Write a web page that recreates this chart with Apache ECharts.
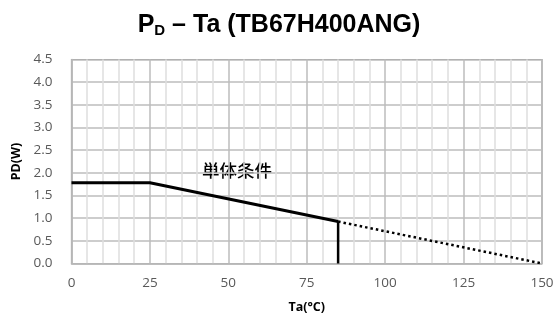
<!DOCTYPE html>
<html>
<head>
<meta charset="utf-8">
<script src="https://cdn.jsdelivr.net/npm/echarts@6/dist/echarts.min.js"></script>
<style>
  html, body { margin: 0; padding: 0; background: #fff; }
  #chart { width: 558px; height: 323px; }
</style>
</head>
<body>
<div id="chart"></div>
<script>
  // derating curve PD vs Ta
  const taSolid = [0, 25, 85];
  const pdSolid = [1.78, 1.78, 0.925];
  const taCut = [85, 85];
  const pdCut = [0.925, 0];
  const taDotted = [85, 150];
  const pdDotted = [0.925, 0];
  const xTicks = [0, 25, 50, 75, 100, 125, 150];
  const yTicks = [0, 0.5, 1, 1.5, 2, 2.5, 3, 3.5, 4, 4.5];
  const noteText = '単体条件';

  const zip = (xs, ys) => xs.map((x, i) => [x, ys[i]]);
  const labelFont = '"Open Sans", "Liberation Sans", sans-serif';

  const chart = echarts.init(document.getElementById('chart'));
  chart.setOption({
    animation: false,
    title: {
      text: '{p|P}{sub|D}{p| – Ta (TB67H400ANG)}',
      left: 'center',
      top: 7,
      textStyle: {
        rich: {
          p: { fontSize: 25, fontWeight: 'bold', color: '#000', fontFamily: '"Liberation Sans", sans-serif' },
          sub: { fontSize: 15, fontWeight: 'bold', color: '#000', verticalAlign: 'bottom', padding: [11, 0, 0, 0], fontFamily: '"Liberation Sans", sans-serif' }
        }
      }
    },
    grid: {
      left: 71.5, right: 16, top: 59.5, bottom: 59.5,
      show: true, borderColor: '#8c8c8c', borderWidth: 1.2
    },
    xAxis: {
      type: 'value',
      min: xTicks[0], max: xTicks[xTicks.length - 1], interval: 25,
      name: 'Ta(°C)', nameLocation: 'middle', nameGap: 37,
      nameTextStyle: { fontWeight: 'bold', fontSize: 12.5, color: '#000', fontFamily: labelFont },
      axisLine: { show: true, lineStyle: { color: '#b8b8b8', width: 1.5 } },
      axisTick: { show: false },
      axisLabel: { color: '#595959', fontSize: 13.5, margin: 13, fontFamily: labelFont },
      splitLine: { show: true, lineStyle: { color: '#bdbdbd', width: 1.5 } },
      minorTick: { show: false, splitNumber: 5 },
      minorSplitLine: { show: true, lineStyle: { color: '#dedede', width: 1.5 } }
    },
    yAxis: {
      type: 'value',
      min: yTicks[0], max: yTicks[yTicks.length - 1], interval: 0.5,
      name: 'PD(W)', nameLocation: 'middle', nameGap: 47,
      nameTextStyle: { fontWeight: 'bold', fontSize: 12.5, color: '#000', fontFamily: labelFont },
      axisLine: { show: true, lineStyle: { color: '#b8b8b8', width: 1.5 } },
      axisTick: { show: false },
      axisLabel: { color: '#595959', fontSize: 13.5, margin: 19, fontFamily: labelFont,
        formatter: v => v.toFixed(1) },
      splitLine: { show: true, lineStyle: { color: '#bdbdbd', width: 1.5 } }
    },
    graphic: [{
      type: 'text', left: 202, top: 162,
      style: { text: noteText, fontSize: 17.5, fontWeight: 500, fill: '#000', fontFamily: '"Noto Sans CJK JP", sans-serif' }
    }],
    series: [
      {
        type: 'line', data: zip(taSolid, pdSolid), showSymbol: false, clip: false,
        lineStyle: { color: '#000', width: 3 }
      },
      {
        type: 'line', data: zip(taCut, pdCut), showSymbol: false,
        lineStyle: { color: '#000', width: 2.5 }
      },
      {
        type: 'line', data: zip(taDotted, pdDotted), showSymbol: false,
        lineStyle: { color: '#000', width: 2.5, type: [2.5, 3] }
      }
    ]
  });
</script>
</body>
</html>
